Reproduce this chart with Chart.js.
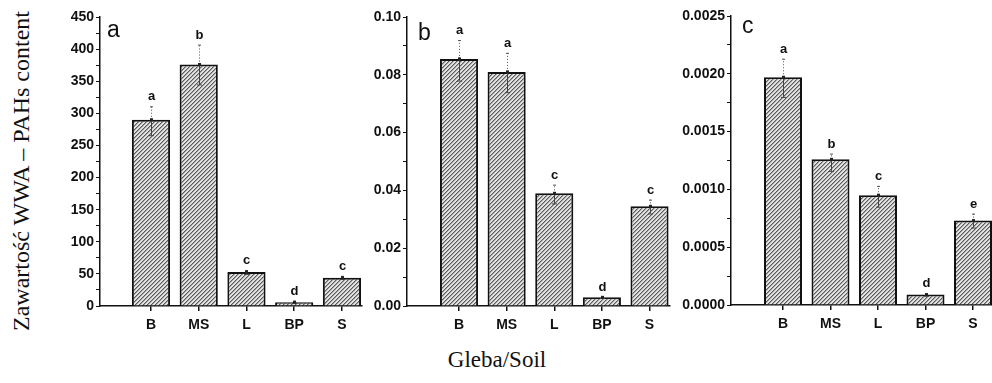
<!DOCTYPE html>
<html>
<head>
<meta charset="utf-8">
<script src="https://cdn.jsdelivr.net/npm/chart.js@4.4.1/dist/chart.umd.min.js"></script>
<style>
body{margin:0;background:#fff;width:992px;height:383px;position:relative;overflow:hidden}
canvas{position:absolute;top:0}
.ttl{position:absolute;font-family:'Liberation Serif','Times New Roman',serif;font-size:23px;color:#111;white-space:nowrap}
#ytitle{left:21px;top:171px;font-size:24px;transform:translate(-50%,-50%) rotate(-90deg)}
#xtitle{left:497px;top:360px;transform:translate(-50%,-50%)}
</style>
</head>
<body>
<canvas id="panel-a" width="330" height="340" style="left:40px"></canvas>
<canvas id="panel-b" width="310" height="340" style="left:370px"></canvas>
<canvas id="panel-c" width="312" height="340" style="left:680px"></canvas>
<div class="ttl" id="ytitle">Zawartość WWA – PAHs content</div>
<div class="ttl" id="xtitle">Gleba/Soil</div>
<script>
// soils on the x axis
const soils = ['B', 'MS', 'L', 'BP', 'S'];

// panel a
const meanA = [290, 376, 53, 6, 44];
const upA = [311, 407, 56, 8, 47];
const lowA = [266, 345, 50, 5, 42];
const lettersA = ['a', 'b', 'c', 'd', 'c'];

// panel b
const meanB = [0.0855, 0.081, 0.039, 0.003, 0.0345];
const upB = [0.092, 0.0876, 0.042, 0.0032, 0.0368];
const lowB = [0.078, 0.074, 0.0355, 0.0028, 0.032];
const lettersB = ['a', 'a', 'c', 'd', 'c'];

// panel c
const meanC = [0.00197, 0.00126, 0.00095, 0.00009, 0.00073];
const upC = [0.00213, 0.00131, 0.00103, 0.0001, 0.00079];
const lowC = [0.0018, 0.00116, 0.00085, 0.00008, 0.00067];
const lettersC = ['a', 'b', 'c', 'd', 'e'];

const sans = "'Liberation Sans', Arial, sans-serif";
const ink = '#111';

function makeHatch(){
    let c = document.createElement('canvas');
    c.width = 4; c.height = 4;
    let ctx = c.getContext('2d');
    ctx.fillStyle = '#e2e2e2';
    ctx.fillRect(0, 0, 4, 4);
    for(let i = 0; i < 4; i++){
        ctx.fillStyle = '#5a5a5a';
        ctx.fillRect(i, 3 - i, 1, 1);
        ctx.fillStyle = '#a4a4a4';
        ctx.fillRect(i, (4 - i) % 4, 1, 1);
    }
    return ctx.createPattern(c, 'repeat');
}

function renderPanel(id, p){
    let element = document.getElementById(id);
    let hatch = makeHatch();

    // error bars, mean marks, group letters and the panel tag
    const marks = {
        id: 'marks',
        afterDatasetsDraw(chart){
            const ctx = chart.ctx;
            const ys = chart.scales.y;
            const bars = chart.getDatasetMeta(0).data;
            ctx.save();
            bars.forEach((bar, i) => {
                let x = Math.round(bar.x);
                let yMean = bar.y;
                let yUp = ys.getPixelForValue(p.up[i]);
                let yLow = ys.getPixelForValue(p.low[i]);

                ctx.strokeStyle = '#444';
                ctx.lineWidth = 1;
                ctx.setLineDash([]);
                ctx.beginPath();
                ctx.moveTo(x + 0.5, yMean);
                ctx.lineTo(x + 0.5, yLow);
                ctx.moveTo(x - 2, yLow + 0.5);
                ctx.lineTo(x + 3, yLow + 0.5);
                ctx.stroke();

                ctx.strokeStyle = '#555';
                ctx.setLineDash([1, 2]);
                ctx.beginPath();
                ctx.moveTo(x + 0.5, yMean);
                ctx.lineTo(x + 0.5, yUp);
                ctx.stroke();
                ctx.setLineDash([]);
                ctx.beginPath();
                ctx.moveTo(x - 1, yUp + 0.5);
                ctx.lineTo(x + 2, yUp + 0.5);
                ctx.stroke();

                ctx.fillStyle = '#222';
                ctx.fillRect(x - 1, yMean - 1.5, 3, 3);

                ctx.fillStyle = ink;
                ctx.font = 'bold 13px ' + sans;
                ctx.textAlign = 'center';
                ctx.textBaseline = 'alphabetic';
                ctx.fillText(p.letters[i], x + 0.5, yUp - 6);
            });
            ctx.font = '23px ' + sans;
            ctx.textAlign = 'left';
            ctx.fillText(p.tag, chart.chartArea.left + p.tagX, chart.chartArea.top + p.tagY);
            ctx.restore();
        }
    };

    const chart = new Chart(element, {
        type: 'bar',
        data: {
            datasets: [
                {
                    data: soils.map((s, i) => ({x: i + 1, y: p.mean[i]})),
                    backgroundColor: hatch,
                    borderColor: ink,
                    borderWidth: 2,
                    categoryPercentage: 0.8,
                    barPercentage: 1.0
                }
            ]
        },
        options: {
            responsive: false,
            animation: false,
            events: [],
            layout: {
                padding: {top: p.padTop, right: p.padRight, left: 0, bottom: 0}
            },
            plugins: {
                legend: {display: false},
                tooltip: {enabled: false}
            },
            scales: {
                x: {
                    type: 'linear',
                    offset: false,
                    min: p.xMin,
                    max: p.xMax,
                    afterBuildTicks: (s) => { s.ticks = soils.map((c, i) => ({value: i + 1})); },
                    afterFit: (s) => { s.height = p.xHeight; },
                    ticks: {
                        autoSkip: false,
                        maxRotation: 0,
                        padding: 6,
                        color: ink,
                        font: {family: sans, size: 14, weight: 'bold'},
                        callback: (v) => soils[v - 1]
                    },
                    grid: {offset: false, drawOnChartArea: false, drawTicks: true, tickLength: 5, color: ink, lineWidth: 1.5},
                    border: {display: true, color: ink, width: 1.5}
                },
                y: {
                    min: 0,
                    max: p.yMax,
                    afterFit: (s) => { s.width = p.yWidth; },
                    ticks: {
                        stepSize: p.yStep,
                        autoSkip: false,
                        padding: 2,
                        color: ink,
                        font: {family: sans, size: 14, weight: 'bold'},
                        callback: (v) => Math.round(v / p.yStep) % 2 === 0 ? v.toFixed(p.dec) : ''
                    },
                    grid: {drawOnChartArea: false, drawTicks: true, tickLength: 4, color: ink},
                    border: {display: true, color: ink, width: 1.5}
                }
            }
        },
        plugins: [marks]
    });
}

renderPanel('panel-a', {
    mean: meanA, up: upA, low: lowA, letters: lettersA, tag: 'a',
    yMax: 450, yStep: 25, dec: 0,
    xMin: -0.068, xMax: 5.42,
    yWidth: 60, padTop: 17, padRight: 8, xHeight: 34,
    tagX: 7, tagY: 20
});

renderPanel('panel-b', {
    mean: meanB, up: upB, low: lowB, letters: lettersB, tag: 'b',
    yMax: 0.10, yStep: 0.01, dec: 2,
    xMin: -0.092, xMax: 5.43,
    yWidth: 37, padTop: 17, padRight: 10, xHeight: 34,
    tagX: 11, tagY: 23
});

renderPanel('panel-c', {
    mean: meanC, up: upC, low: lowC, letters: lettersC, tag: 'c',
    yMax: 0.0025, yStep: 0.00025, dec: 4,
    xMin: -0.095, xMax: 5.40,
    yWidth: 51, padTop: 16, padRight: 0, xHeight: 35,
    tagX: 11, tagY: 17
});
</script>
</body>
</html>
